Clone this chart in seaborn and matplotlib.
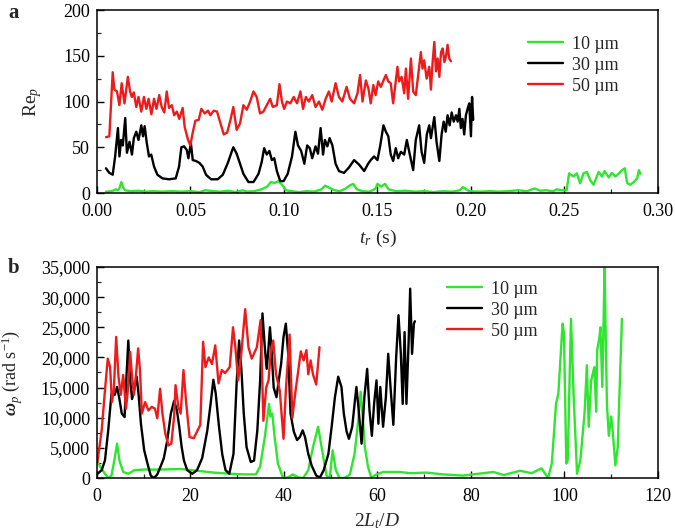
import numpy as np
import pandas as pd
import matplotlib
matplotlib.use("Agg")
import matplotlib.pyplot as plt
import seaborn as sns
from matplotlib.ticker import MultipleLocator, FuncFormatter

# ---------------- Panel a : Re_p vs t_r ----------------
t_50 = [0.0048,0.0066,0.0084,0.0093,0.0107,0.0120,0.0132,0.0147,0.0165,0.0177,
        0.0186,0.0197,0.0210,0.0222,0.0237,0.0251,0.0264,0.0276,0.0291,0.0305,
        0.0318,0.0333,0.0346,0.0360,0.0373,0.0385,0.0400,0.0413,0.0427,0.0440,
        0.0458,0.0469,0.0487,0.0499,0.0511,0.0526,0.0544,0.0558,0.0576,0.0594,
        0.0606,0.0624,0.0642,0.0655,0.0678,0.0696,0.0714,0.0729,0.0747,0.0765,
        0.0783,0.0801,0.0819,0.0837,0.0854,0.0872,0.0890,0.0908,0.0926,0.0940,
        0.0962,0.0976,0.0989,0.1001,0.1016,0.1034,0.1052,0.1070,0.1088,0.1102,
        0.1117,0.1133,0.1151,0.1169,0.1187,0.1205,0.1223,0.1240,0.1255,0.1276,
        0.1294,0.1312,0.1335,0.1353,0.1375,0.1393,0.1407,0.1420,0.1438,0.1452,
        0.1464,0.1478,0.1490,0.1504,0.1518,0.1532,0.1545,0.1558,0.1571,0.1584,
        0.1598,0.1607,0.1616,0.1629,0.1643,0.1652,0.1664,0.1679,0.1691,0.1705,
        0.1718,0.1732,0.1741,0.1750,0.1763,0.1777,0.1786,0.1795,0.1804,0.1813,
        0.1822,0.1831,0.1840,0.1849,0.1858,0.1867,0.1875,0.1884,0.1893]
re_50 = [61,62,132,113,111,96,120,98,127,111,
         105,110,94,105,89,105,92,103,86,103,
         92,107,94,88,111,93,96,85,89,81,
         93,72,58,52,65,79,80,92,87,90,
         85,90,89,80,64,66,80,94,69,76,
         96,91,100,111,105,87,89,96,103,94,
         96,119,100,92,100,98,105,98,111,92,
         105,100,107,94,100,91,103,111,100,120,
         105,100,116,103,98,109,129,100,123,114,
         98,118,107,122,116,123,129,122,120,98,
         122,138,122,127,109,136,103,147,111,107,
         129,154,136,145,125,138,113,143,165,133,
         147,127,154,158,143,150,162,147,144]

t_30 = [0.0048,0.0066,0.0084,0.0097,0.0112,0.0120,0.0129,0.0138,0.0151,0.0160,
        0.0174,0.0187,0.0197,0.0210,0.0222,0.0237,0.0246,0.0255,0.0266,0.0278,
        0.0290,0.0305,0.0323,0.0350,0.0385,0.0421,0.0439,0.0451,0.0466,0.0480,
        0.0489,0.0502,0.0512,0.0529,0.0547,0.0565,0.0583,0.0610,0.0646,0.0673,
        0.0700,0.0715,0.0729,0.0747,0.0765,0.0783,0.0810,0.0837,0.0864,0.0881,
        0.0894,0.0908,0.0922,0.0935,0.0948,0.0962,0.0980,0.0998,0.1020,0.1043,
        0.1061,0.1075,0.1092,0.1109,0.1124,0.1138,0.1151,0.1169,0.1182,0.1196,
        0.1209,0.1219,0.1232,0.1244,0.1259,0.1276,0.1294,0.1321,0.1348,0.1375,
        0.1402,0.1429,0.1450,0.1464,0.1482,0.1500,0.1515,0.1532,0.1545,0.1558,
        0.1571,0.1584,0.1598,0.1611,0.1625,0.1643,0.1657,0.1670,0.1691,0.1705,
        0.1723,0.1736,0.1750,0.1764,0.1777,0.1786,0.1804,0.1816,0.1831,0.1843,
        0.1854,0.1865,0.1875,0.1886,0.1897,0.1908,0.1920,0.1929,0.1938,0.1946,
        0.1955,0.1964,0.1973,0.1982,0.1991,0.2000,0.2006,0.2012]
re_30 = [27,22,20,40,71,40,58,52,82,44,
         56,42,60,67,58,74,62,73,55,40,
         42,29,20,16,15,16,29,50,51,47,
         38,55,36,35,33,29,20,15,15,20,
         33,42,50,43,32,21,12,12,21,34,
         49,42,46,36,38,24,13,13,21,40,
         67,52,46,32,52,49,38,51,43,71,
         42,58,51,60,52,32,24,22,28,36,
         31,24,32,36,40,36,52,74,67,62,
         42,35,49,38,45,42,58,45,25,58,
         74,45,33,64,74,60,83,56,35,64,
         78,67,85,74,88,78,85,78,92,71,
         81,64,85,92,98,62,105,80]

t_10 = [0.0048,0.0080,0.0100,0.0110,0.0120,0.0130,0.0140,0.0150,0.0180,0.0220,
        0.0260,0.0300,0.0350,0.0400,0.0450,0.0500,0.0550,0.0580,0.0620,0.0660,
        0.0700,0.0740,0.0780,0.0800,0.0840,0.0880,0.0910,0.0930,0.0950,0.0970,
        0.0990,0.1010,0.1040,0.1080,0.1120,0.1160,0.1200,0.1220,0.1240,0.1270,
        0.1300,0.1330,0.1350,0.1370,0.1390,0.1420,0.1460,0.1490,0.1500,0.1520,
        0.1540,0.1560,0.1600,0.1650,0.1700,0.1750,0.1800,0.1850,0.1900,0.1940,
        0.1957,0.1990,0.2050,0.2100,0.2150,0.2200,0.2250,0.2300,0.2340,0.2370,
        0.2400,0.2440,0.2459,0.2490,0.2512,0.2525,0.2548,0.2566,0.2584,0.2602,
        0.2620,0.2638,0.2656,0.2683,0.2701,0.2715,0.2737,0.2754,0.2772,0.2790,
        0.2808,0.2823,0.2835,0.2853,0.2871,0.2889,0.2898,0.2906]
re_10 = [1.5,2,4,3,5,12,6,3,2,2.5,
         1.5,2,1.5,2,1.5,2,1,3,2,1.5,
         2.5,1,3,1.5,2,4,7,12,11,13,
         9,3,2,1,2,1.5,4,8,6,3,
         2,5,8,10,4,2,1.5,5,10,7,
         10,4,2,2.5,1.5,2,1,2,1.5,3,
         6.5,2,1.5,2,1.5,2,3,2,5,2.5,
         3,2,4,3,3,21.5,18,21.5,10.6,21.5,
         23,14,9,23,18,24,17,22,18,21,
         25,27,11,9,12,16,25,21]

# ---------------- Panel b : omega_p vs 2L_t/D ----------------
l_50 = [0.1,1.0,1.7,2.3,2.8,3.2,3.6,4.1,4.6,5.1,
        5.6,6.2,6.6,7.1,7.5,7.9,8.4,8.8,9.2,9.6,
        10.3,11.0,11.7,12.4,12.9,13.5,14.0,14.6,15.3,15.9,
        16.5,16.8,17.4,17.9,18.5,19.1,19.8,20.7,21.4,22.1,
        22.7,23.2,23.9,24.6,25.3,26.0,26.7,27.4,28.4,29.1,
        29.6,30.2,30.8,31.7,32.4,33.1,34.2,35.0,35.6,36.2,
        36.7,37.2,37.7,38.3,39.1,39.9,40.4,41.2,41.8,42.4,
        43.0,43.6,44.2,44.8,45.2,45.7,46.2,46.9,47.6]
w_50_k = [2.65,7.9,14.5,19.8,18.4,12.6,14.5,23.4,16.8,13.8,
          17.1,11.5,14.5,20.9,16.8,13.8,17.6,21.5,17.9,10.7,
          12.6,11.2,11.8,11.5,9.9,14.8,10.7,7.4,5.4,5.7,
          10.2,15.4,11.8,10.7,17.9,12.3,6.8,6.6,7.7,8.8,
          22.6,18.4,20.0,18.9,22.0,15.7,17.9,17.4,18.4,25.0,
          21.7,16.2,20.0,28.0,21.7,19.8,21.7,26.2,9.5,15.0,
          16.2,21.2,22.8,17.2,14.5,6.5,14.5,23.8,10.0,14.0,
          17.5,21.0,19.5,21.2,17.2,19.5,17.2,15.5,21.7]

l_30 = [0.1,1.0,1.7,2.4,3.1,3.8,4.3,4.8,5.3,5.9,
        6.3,6.7,7.1,7.5,8.0,8.5,8.9,9.4,10.1,10.8,
        11.5,12.2,12.9,13.6,14.3,15.0,15.8,16.5,17.1,17.6,
        18.1,18.6,19.3,20.4,21.4,22.5,23.6,24.3,24.9,25.4,
        26.1,26.8,27.5,28.3,29.2,29.9,30.4,30.9,31.4,32.0,
        32.9,33.6,34.3,34.9,35.4,35.9,36.3,36.6,37.0,37.3,
        37.8,38.4,39.0,39.4,39.9,40.4,40.9,41.4,42.1,42.8,
        43.4,44.0,44.5,45.2,45.9,46.9,47.7,48.5,49.5,50.2,
        50.9,51.6,52.3,52.8,53.4,53.9,54.6,55.2,55.5,55.9,
        56.6,57.2,57.8,58.3,58.8,59.3,59.8,60.2,60.6,61.2,
        61.8,62.3,62.8,63.4,64.0,64.5,65.0,65.4,65.8,66.2,
        66.7,67.0,67.4,67.8,68.0]
w_30_k = [0.7,1.3,2.9,7.9,14.0,13.8,15.1,13.1,10.7,10.1,
          16.8,22.8,16.2,13.1,14.8,16.8,13.8,9.0,4.6,2.4,
          0.4,0.0,0.6,1.9,3.3,6.1,10.7,12.8,11.2,8.5,
          5.2,2.9,1.3,0.7,1.3,3.3,7.9,12.3,16.3,14.0,
          8.5,3.9,1.3,0.7,4.0,16.2,22.8,17.9,10.7,5.1,
          2.65,2.9,7.9,16.2,27.3,21.7,18.1,20.6,25.0,21.7,
          15.0,13.4,16.8,19.0,23.4,25.6,20.6,10.7,7.7,6.3,
          6.8,7.9,6.8,4.0,2.1,0.4,0.1,1.3,4.0,8.5,
          13.4,16.8,15.1,10.7,7.7,6.5,8.5,13.0,15.1,12.0,
          5.7,13.4,18.1,11.2,7.0,12.5,16.2,9.0,15.1,8.5,
          13.4,20.6,15.0,8.8,20.0,27.0,20.6,12.3,24.2,12.3,
          23.4,31.4,20.6,25.6,26.0]

l_10 = [0.1,1.0,1.7,2.4,3.1,3.7,4.3,4.8,5.6,6.7,
        8.0,10.1,13.6,17.9,21.4,25.0,28.6,31.5,34.0,34.9,
        35.9,36.8,37.1,37.5,38.0,38.7,39.8,40.9,41.9,43.0,
        44.1,45.2,46.2,47.3,48.3,49.1,49.8,50.4,51.1,51.9,
        53.0,54.1,55.1,55.9,56.4,56.8,57.3,58.0,58.7,59.5,
        61.2,64.8,67.0,70.5,74.0,78.3,81.5,84.8,87.0,90.5,
        93.0,95.1,96.5,97.3,98.2,98.7,99.6,99.9,100.4,100.7,
        101.4,102.0,102.7,103.4,104.3,104.8,105.2,105.7,106.0,106.4,
        106.8,107.0,107.5,107.7,108.1,108.6,108.8,109.1,109.5,110.0,
        110.3,110.9,111.4,112.3]
w_10_k = [2.65,1.5,0.7,0.0,0.4,2.9,5.7,2.9,1.0,0.7,
          1.3,1.4,1.4,1.5,1.2,0.9,0.7,0.6,0.6,1.9,
          6.8,12.3,10.2,10.7,6.8,2.4,0.0,0.1,0.6,0.1,
          0.0,1.3,5.1,8.5,4.0,0.4,0.0,4.6,1.3,0.0,
          0.0,0.6,4.0,9.6,14.3,10.7,5.1,1.8,0.0,0.5,
          1.0,1.0,0.8,0.9,0.6,0.4,0.7,1.0,0.5,1.2,
          0.8,1.6,0.0,2.4,12.3,14.0,25.6,24.0,2.4,2.9,
          26.4,13.0,0.7,2.9,10.7,18.7,8.5,16.0,17.1,18.4,
          11.0,21.2,23.4,25.0,15.1,35.0,25.0,12.0,7.0,10.2,
          8.0,2.1,5.1,26.4]

sizes = ["10 \u00b5m", "30 \u00b5m", "50 \u00b5m"]
colors = ["#2ee62e", "#000000", "#ec1c1c"]

df_a = pd.concat([
    pd.DataFrame({"t": t_10, "Re": re_10, "size": sizes[0]}),
    pd.DataFrame({"t": t_30, "Re": re_30, "size": sizes[1]}),
    pd.DataFrame({"t": t_50, "Re": re_50, "size": sizes[2]}),
], ignore_index=True)
df_b = pd.concat([
    pd.DataFrame({"L": l_10, "w": np.array(w_10_k) * 1000, "size": sizes[0]}),
    pd.DataFrame({"L": l_30, "w": np.array(w_30_k) * 1000, "size": sizes[1]}),
    pd.DataFrame({"L": l_50, "w": np.array(w_50_k) * 1000, "size": sizes[2]}),
], ignore_index=True)

sns.set_style("ticks")
plt.rcParams.update({
    "font.family": ["Liberation Serif", "DejaVu Serif"],
    "mathtext.fontset": "custom",
    "mathtext.rm": "Liberation Serif",
    "mathtext.it": "Liberation Serif:italic",
    "mathtext.bf": "Liberation Serif:italic:bold",
    "axes.linewidth": 1.1,
    "axes.edgecolor": "black",
})

fig = plt.figure(figsize=(6.75, 5.31), dpi=100)
ax1 = fig.add_axes([0.1437, 0.6365, 0.831, 0.3446])
ax2 = fig.add_axes([0.1437, 0.0998, 0.831, 0.3974])

for ax, df, xc, yc in [(ax1, df_a, "t", "Re"), (ax2, df_b, "L", "w")]:
    sns.lineplot(data=df, x=xc, y=yc, hue="size", hue_order=sizes,
                 palette=colors, estimator=None, sort=False,
                 linewidth=1.7, ax=ax)

ax1.set_xlim(0, 0.30)
ax1.set_ylim(0, 200)
ax1.xaxis.set_major_locator(MultipleLocator(0.05))
ax1.xaxis.set_minor_locator(MultipleLocator(0.025))
ax1.yaxis.set_major_locator(MultipleLocator(50))
ax1.yaxis.set_minor_locator(MultipleLocator(25))
ax1.xaxis.set_major_formatter(FuncFormatter(lambda v, p: f"{v:.2f}"))

ax2.set_xlim(0, 120)
ax2.set_ylim(0, 35000)
ax2.xaxis.set_major_locator(MultipleLocator(20))
ax2.xaxis.set_minor_locator(MultipleLocator(10))
ax2.yaxis.set_major_locator(MultipleLocator(5000))
ax2.yaxis.set_minor_locator(MultipleLocator(2500))
ax2.yaxis.set_major_formatter(FuncFormatter(lambda v, p: f"{int(v):,}"))

for ax in (ax1, ax2):
    ax.tick_params(which="major", direction="in", length=5, width=1,
                   labelsize=13, top=False, right=False, colors="black")
    ax.tick_params(axis="x", which="major", pad=7)
    ax.tick_params(axis="y", which="major", pad=5)
    ax.tick_params(which="minor", direction="in", length=3, width=0.9,
                   top=False, right=False)
    for s in ax.spines.values():
        s.set_visible(True)
        s.set_color("black")
        s.set_linewidth(1.1)

ax1.set_xlabel(r"$t_r$ (s)", fontsize=14)
ax1.set_ylabel(r"Re$_p$", fontsize=14)
ax1.xaxis.set_label_coords(0.5, -0.19)
ax1.yaxis.set_label_coords(-0.095, 0.5)

ax2.set_xlabel(r"$2L_t/D$", fontsize=14)
ax2.set_ylabel(r"$\mathbf{\omega}_p$ (rad s$^{-1}$)", fontsize=13)
ax2.xaxis.set_label_coords(0.5, -0.16)
ax2.yaxis.set_label_coords(-0.128, 0.5)

h1, lab1 = ax1.get_legend_handles_labels()
ax1.legend(h1, lab1, loc="upper left", bbox_to_anchor=(0.768, 0.86),
           frameon=False, fontsize=13, handlelength=1.95, handletextpad=0.5,
           labelspacing=0.22, borderpad=0, borderaxespad=0)
h2, lab2 = ax2.get_legend_handles_labels()
ax2.legend(h2, lab2, loc="upper left", bbox_to_anchor=(0.624, 0.935),
           frameon=False, fontsize=13, handlelength=1.95, handletextpad=0.5,
           labelspacing=0.22, borderpad=0, borderaxespad=0)

fig.text(0.012, 1 - 3 / 531, "a", fontsize=15, fontweight="bold", va="top")
fig.text(0.012, 1 - 258 / 531, "b", fontsize=15, fontweight="bold", va="top")

fig.savefig("out.png", dpi=100)
